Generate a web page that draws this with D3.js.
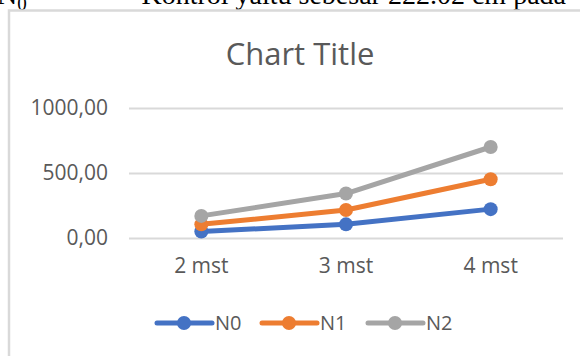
<!DOCTYPE html>
<html>
<head>
<meta charset="utf-8">
<script src="https://cdn.jsdelivr.net/npm/d3@7"></script>
<style>
  body { margin: 0; background: #fff; }
  svg { display: block; }
</style>
</head>
<body>
<svg id="chart" width="580" height="356"></svg>
<script>
// data
const categories = ["2 mst", "3 mst", "4 mst"];
const seriesNames = ["N0", "N1", "N2"];
const n0Values = [50, 105, 222.02];
const n1Values = [105, 215, 452];
const n2Values = [170, 342, 700];
const yTicks = [0, 500, 1000];
const colors = ["#4472C4", "#ED7D31", "#A5A5A5"];

const series = seriesNames.map((name, i) => ({
    name,
    values: [n0Values, n1Values, n2Values][i],
    color: colors[i]
}));

const svg = d3.select("#chart");

// cropped line of body text above the chart (cut off at the top in the reference too)
const topText = svg.append("text")
    .attr("y", 4)
    .style("font-family", "'Liberation Serif', 'Times New Roman', serif")
    .style("font-size", "28px")
    .attr("fill", "#000");
topText.append("tspan").attr("x", -3).text("N");
topText.append("tspan").attr("dy", 6).style("font-size", "19px").text("0");
svg.append("text")
    .attr("x", 566)
    .attr("y", 4)
    .attr("text-anchor", "end")
    .style("font-family", "'Liberation Serif', 'Times New Roman', serif")
    .style("font-size", "28px")
    .attr("fill", "#000")
    .text("Kontrol yaitu sebesar 222.02 cm pada");

// chart frame
svg.append("rect")
    .attr("x", 9)
    .attr("y", 10.5)
    .attr("width", 600)
    .attr("height", 400)
    .attr("fill", "#fff")
    .attr("stroke", "#d9d9d9")
    .attr("stroke-width", 2.5);

const font = "'Open Sans', 'Noto Sans', sans-serif";

// title
svg.append("text")
    .attr("x", 300)
    .attr("y", 65)
    .attr("text-anchor", "middle")
    .style("font-family", font)
    .style("font-size", "31px")
    .attr("fill", "#595959")
    .text("Chart Title");

const x = d3.scaleBand()
    .domain(categories)
    .range([129, 563]);

const y = d3.scaleLinear()
    .domain([0, 1000])
    .range([238, 108]);

const locale = d3.formatLocale({ decimal: ",", thousands: "", grouping: [3], currency: ["", ""] });
const fmt = locale.format(".2f");

// gridlines + y labels
const yAxis = svg.append("g")
    .attr("transform", `translate(${x.range()[0]},0)`)
    .call(d3.axisLeft(y)
        .tickValues(yTicks)
        .tickSize(-(x.range()[1] - x.range()[0]))
        .tickPadding(21)
        .tickFormat(fmt));
yAxis.select(".domain").remove();
yAxis.selectAll(".tick line")
    .attr("stroke", "#d9d9d9")
    .attr("stroke-width", 2);
yAxis.selectAll(".tick text")
    .style("font-family", font)
    .style("font-size", "21px")
    .attr("fill", "#595959");

// x labels
const xAxis = svg.append("g")
    .attr("transform", `translate(0,${y(0)})`)
    .call(d3.axisBottom(x).tickSize(0).tickPadding(20));
xAxis.select(".domain").remove();
xAxis.selectAll(".tick text")
    .style("font-family", font)
    .style("font-size", "21px")
    .attr("fill", "#595959");

const cx = c => x(c) + x.bandwidth() / 2;

const line = d3.line()
    .x((d, i) => cx(categories[i]))
    .y(d => y(d));

// lines and markers
series.forEach(s => {
    svg.append("path")
        .datum(s.values)
        .attr("fill", "none")
        .attr("stroke", s.color)
        .attr("stroke-width", 5)
        .attr("stroke-linejoin", "round")
        .attr("stroke-linecap", "round")
        .attr("d", line);

    svg.append("g")
        .selectAll("circle")
        .data(s.values)
        .join("circle")
        .attr("cx", (d, i) => cx(categories[i]))
        .attr("cy", d => y(d))
        .attr("r", 7)
        .attr("fill", s.color);
});

// legend
const legendX = [157, 262, 368];
const legendY = 323;
const legend = svg.append("g");
series.forEach((s, i) => {
    const g = legend.append("g").attr("transform", `translate(${legendX[i]},${legendY})`);
    g.append("line")
        .attr("x1", 0).attr("x2", 55)
        .attr("stroke", s.color)
        .attr("stroke-width", 5)
        .attr("stroke-linecap", "round");
    g.append("circle")
        .attr("cx", 27)
        .attr("r", 7)
        .attr("fill", s.color);
    g.append("text")
        .attr("x", 58)
        .attr("y", 7)
        .style("font-family", font)
        .style("font-size", "20px")
        .attr("fill", "#595959")
        .text(s.name);
});
</script>
</body>
</html>
